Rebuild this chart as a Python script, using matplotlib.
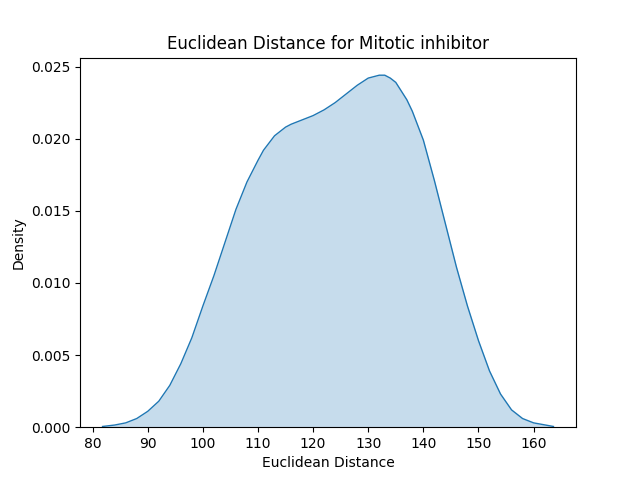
import matplotlib
matplotlib.use('Agg')
import matplotlib.pyplot as plt

# density curve (kde of euclidean distances)
distance = [81.8, 84, 86, 88, 90, 92, 94, 96, 98, 100, 102, 104, 106, 108,
            110, 111, 112, 113, 114, 115, 116, 118, 120, 122, 124, 126, 128,
            130, 131, 132, 133, 134, 135, 136, 137, 138, 140, 142, 144, 146,
            148, 150, 152, 154, 156, 158, 160, 163.6]
density = [0.00005, 0.00015, 0.0003, 0.0006, 0.0011, 0.0018, 0.0029, 0.0044,
           0.0062, 0.0084, 0.0105, 0.0128, 0.0151, 0.0170, 0.0185, 0.0192,
           0.0197, 0.0202, 0.0205, 0.0208, 0.0210, 0.0213, 0.0216, 0.0220,
           0.0225, 0.0231, 0.0237, 0.0242, 0.0243, 0.0244, 0.0244, 0.0242,
           0.0239, 0.0233, 0.0227, 0.0219, 0.0199, 0.0171, 0.0141, 0.0111,
           0.0084, 0.0060, 0.0039, 0.0023, 0.0012, 0.0006, 0.0003, 0.00005]

fig, ax = plt.subplots(figsize=(6.4, 4.8), dpi=100)
ax.fill_between(distance, density, color='C0', alpha=0.25, linewidth=0)
ax.plot(distance, density, color='C0', linewidth=1)
ax.set_ylim(bottom=0)

ax.set_title('Euclidean Distance for Mitotic inhibitor')
ax.set_xlabel('Euclidean Distance')
ax.set_ylabel('Density')

fig.savefig('out.png')
